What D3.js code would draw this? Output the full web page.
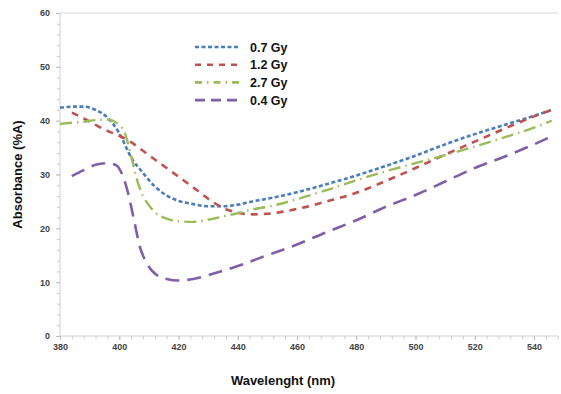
<!DOCTYPE html>
<html>
<head>
<meta charset="utf-8">
<script src="https://cdn.jsdelivr.net/npm/d3@7"></script>
<style>
body { margin: 0; background: #fff; }
text { font-family: "Liberation Sans", Arial, sans-serif; }
</style>
</head>
<body>
<div id="my_dataviz"></div>
<script>
// data
var seriesNames = ["0.7 Gy", "1.2 Gy", "2.7 Gy", "0.4 Gy"];

var wl07  = [380, 384, 388, 392, 396, 400, 404, 408, 412, 416, 420, 425, 430, 435, 440, 445, 450, 460, 470, 480, 490, 500, 510, 520, 530, 540, 546];
var abs07 = [42.4, 42.6, 42.6, 42.0, 40.6, 37.7, 33.2, 30.3, 27.8, 26.1, 25.1, 24.5, 24.1, 24.1, 24.4, 25.0, 25.5, 26.7, 28.2, 29.8, 31.6, 33.5, 35.6, 37.5, 39.2, 40.9, 42.0];

var wl12  = [384, 388, 392, 396, 400, 404, 408, 412, 416, 420, 425, 430, 435, 440, 445, 450, 460, 470, 480, 490, 500, 510, 520, 530, 540, 546];
var abs12 = [41.5, 40.4, 39.2, 38.1, 37.2, 36.0, 34.4, 32.8, 31.2, 29.6, 27.6, 25.5, 23.8, 22.9, 22.6, 22.7, 23.6, 25.0, 26.6, 28.8, 31.2, 33.7, 36.1, 38.5, 40.8, 42.0];

var wl27  = [380, 384, 388, 392, 396, 400, 402, 404, 406, 408, 410, 412, 416, 420, 425, 430, 435, 440, 445, 450, 460, 470, 480, 490, 500, 510, 520, 530, 540, 546];
var abs27 = [39.4, 39.6, 39.8, 40.1, 40.2, 39.2, 37.5, 33.5, 29.0, 26.0, 24.3, 23.0, 21.8, 21.3, 21.2, 21.6, 22.2, 22.8, 23.5, 24.0, 25.4, 27.1, 28.9, 30.6, 32.1, 33.6, 35.2, 36.9, 38.7, 40.0];

var wl04  = [384, 388, 392, 396, 399, 401, 403, 405, 407, 409, 412, 416, 420, 425, 430, 440, 450, 460, 470, 480, 490, 500, 510, 520, 530, 540, 546];
var abs04 = [29.7, 30.8, 31.8, 32.1, 31.7, 30.0, 26.5, 21.5, 16.5, 13.8, 11.6, 10.6, 10.3, 10.6, 11.3, 13.0, 15.0, 17.0, 19.3, 21.5, 24.0, 26.2, 28.7, 31.2, 33.3, 35.6, 37.1];

var xTicks = [380, 400, 420, 440, 460, 480, 500, 520, 540];
var yTicks = [0, 10, 20, 30, 40, 50, 60];

var W = 561, H = 394;
var margin = {top: 13, right: 3, bottom: 58, left: 60},
    width = W - margin.left - margin.right,
    height = H - margin.top - margin.bottom;

var svg = d3.select("#my_dataviz")
    .append("svg")
    .attr("width", W)
    .attr("height", H);

var g = svg.append("g")
    .attr("transform", "translate(" + margin.left + "," + margin.top + ")");

var x = d3.scaleLinear()
    .domain([380, 380 + width / 59.25 * 20])
    .range([0, width]);

var y = d3.scaleLinear()
    .domain([0, 60])
    .range([height, 0]);

// top border
g.append("line")
    .attr("x1", 0).attr("x2", width)
    .attr("y1", 0).attr("y2", 0)
    .attr("stroke", "#d9d9d9");

// minor ticks
g.append("g")
    .attr("transform", "translate(0," + height + ")")
    .call(d3.axisBottom(x).tickValues(d3.range(380, 556, 4)).tickSize(3).tickFormat(""))
    .call(function(a) { a.select(".domain").remove(); })
    .selectAll("line").attr("stroke", "#c8c8c8");
g.append("g")
    .call(d3.axisLeft(y).tickValues(d3.range(0, 61, 2)).tickSize(3).tickFormat(""))
    .call(function(a) { a.select(".domain").remove(); })
    .selectAll("line").attr("stroke", "#c8c8c8");

// X axis
var xAxis = g.append("g")
    .attr("transform", "translate(0," + height + ")")
    .call(d3.axisBottom(x).tickValues(xTicks).tickSize(4).tickPadding(4));
xAxis.select(".domain").attr("stroke", "#d0d0d0").attr("d", "M0,0H" + width);
xAxis.selectAll("line").attr("stroke", "#c0c0c0");
xAxis.selectAll("text")
    .style("font-size", "9px")
    .attr("font-weight", "bold")
    .attr("fill", "#444");

// Y axis
var yAxis = g.append("g")
    .call(d3.axisLeft(y).tickValues(yTicks).tickSize(4).tickPadding(6));
yAxis.select(".domain").attr("stroke", "#d0d0d0").attr("d", "M0," + height + "V0");
yAxis.selectAll("line").attr("stroke", "#c0c0c0");
yAxis.selectAll("text")
    .style("font-size", "9px")
    .attr("font-weight", "bold")
    .attr("fill", "#444");

// axis titles
svg.append("text")
    .attr("x", 283)
    .attr("y", 385)
    .attr("text-anchor", "middle")
    .style("font-size", "13px")
    .attr("font-weight", "bold")
    .attr("fill", "#111")
    .text("Wavelenght (nm)");

svg.append("text")
    .attr("transform", "translate(22," + (margin.top + height / 2) + ") rotate(-90)")
    .attr("text-anchor", "middle")
    .style("font-size", "13px")
    .attr("font-weight", "bold")
    .attr("fill", "#111")
    .text("Absorbance (%A)");

// lines
var series = [
    {name: seriesNames[0], wl: wl07, v: abs07, color: "#4a7ebb", dash: "4,2.5", w: 2.6},
    {name: seriesNames[1], wl: wl12, v: abs12, color: "#c0504d", dash: "7,6", w: 2.6},
    {name: seriesNames[2], wl: wl27, v: abs27, color: "#9bbb59", dash: "12,5,1.5,5", w: 2.4},
    {name: seriesNames[3], wl: wl04, v: abs04, color: "#7f5fa8", dash: "14,8", w: 2.6}
];

var line = d3.line()
    .x(function(d) { return x(d[0]); })
    .y(function(d) { return y(d[1]); })
    .curve(d3.curveMonotoneX);

series.forEach(function(s) {
    var pts = s.wl.map(function(w, i) { return [w, s.v[i]]; });
    g.append("path")
        .datum(pts)
        .attr("fill", "none")
        .attr("stroke", s.color)
        .attr("stroke-width", s.w)
        .attr("stroke-dasharray", s.dash)
        .attr("d", line);
});

// legend
var legend = svg.append("g");
series.forEach(function(s, i) {
    var ly = 47 + i * 17.7;
    legend.append("line")
        .attr("x1", 195).attr("x2", 239)
        .attr("y1", ly).attr("y2", ly)
        .attr("stroke", s.color)
        .attr("stroke-width", 2.6)
        .attr("stroke-dasharray", i == 0 ? "4,2.5" : i == 1 ? "6,6" : i == 2 ? "7,5,1.5,5" : "10,6");
    legend.append("text")
        .attr("x", 250)
        .attr("y", ly + 4.5)
        .style("font-size", "12.5px")
        .attr("font-weight", "bold")
        .attr("fill", "#111")
        .text(s.name);
});
</script>
</body>
</html>
